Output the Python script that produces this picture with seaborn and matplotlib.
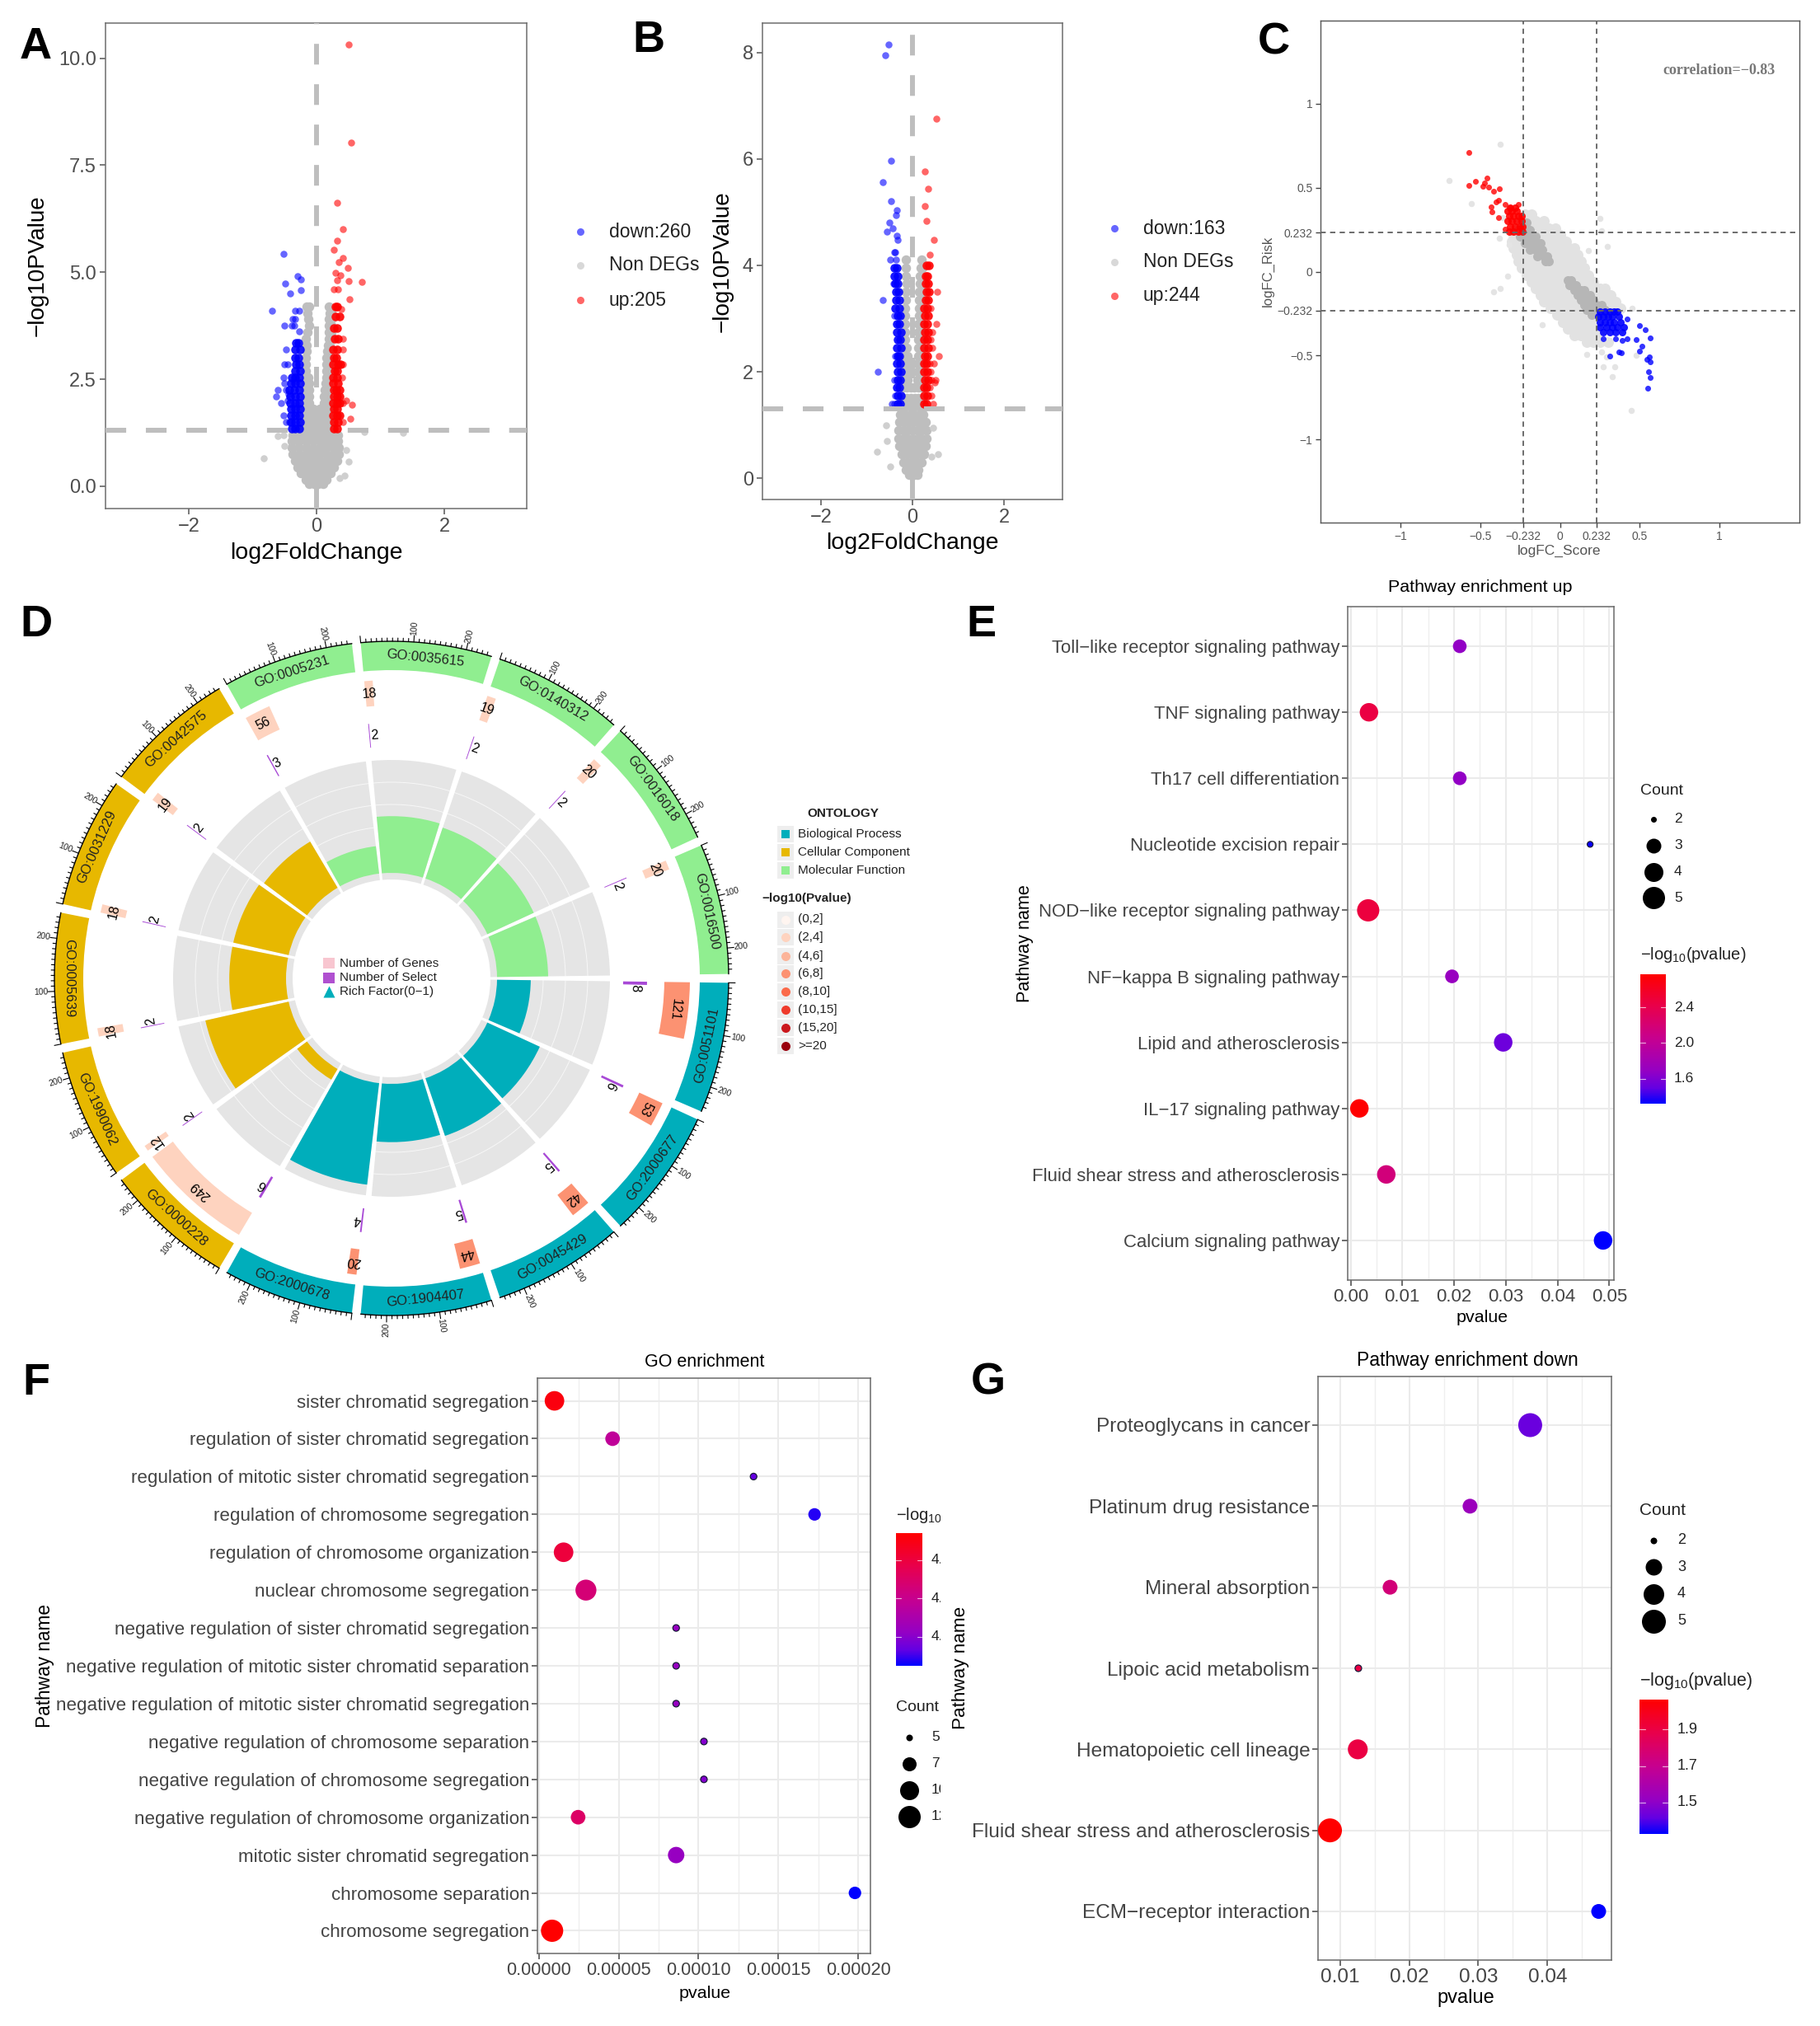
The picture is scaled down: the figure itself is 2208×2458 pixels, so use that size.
import numpy as np
import pandas as pd
import matplotlib
matplotlib.use('Agg')
import matplotlib.pyplot as plt
from matplotlib.colors import LinearSegmentedColormap, Normalize
from matplotlib.cm import ScalarMappable
from matplotlib.patches import Rectangle
import seaborn as sns

W, H = 2208, 2458

# volcano A, rows are y -> x values
A_GREY = {
    0.06: [-0.11, -0.04, 0.03, 0.1], 0.15: [-0.17, -0.08, 0.0, 0.08, 0.16], 0.3: [-0.24, -0.15, -0.06, 0.03, 0.12, 0.22],
    0.45: [-0.29, -0.2, -0.1, 0.0, 0.1, 0.2, 0.27], 0.6: [-0.34, -0.25, -0.15, -0.05, 0.05, 0.15, 0.25, 0.32],
    0.75: [-0.37, -0.27, -0.16, -0.06, 0.05, 0.16, 0.27, 0.35], 0.9: [-0.38, -0.27, -0.15, -0.05, 0.06, 0.16, 0.26, 0.35],
    1.05: [-0.39, -0.28, -0.16, -0.05, 0.05, 0.15, 0.25, 0.34], 1.2: [-0.37, -0.25, -0.13, -0.03, 0.07, 0.17, 0.27, 0.34],
    1.35: [-0.27, -0.18, -0.08, 0.0, 0.08, 0.17, 0.26], 1.5: [-0.21, -0.13, -0.06, 0.06, 0.14, 0.21],
    1.65: [-0.2, -0.12, -0.04, 0.04, 0.12, 0.19], 1.8: [-0.2, -0.12, -0.05, 0.05, 0.12, 0.19], 1.95: [-0.19, -0.12, 0.12, 0.19], 2.1: [-0.18, -0.12, 0.12, 0.18],
    2.25: [-0.18, -0.12, 0.13, 0.18], 2.4: [-0.17, -0.12, 0.14, 0.18], 2.55: [-0.17, -0.13, 0.15, 0.19], 2.7: [-0.17, 0.15, 0.19], 2.85: [-0.16, 0.16, 0.2],
    3.0: [-0.16, 0.16, 0.2], 3.15: [-0.15, 0.17, 0.2], 3.3: [-0.15, 0.18, 0.21], 3.45: [-0.16, 0.19, 0.22], 3.6: [-0.14, 0.2, 0.23], 3.75: [-0.12, 0.2, 0.23],
    3.9: [-0.13, 0.2, 0.24], 4.05: [-0.14, 0.21, 0.24], 4.2: [-0.15, -0.11, 0.2],
}
A_GREY_OUT = [(-0.82, 0.66), (-0.5, 0.95), (-0.6, 1.17), (-0.52, 1.2), (1.35, 1.26), (0.75, 1.27), (0.5, 0.58), (0.44, 0.25), (0.36, 0.2), (0.47, 0.85)]
A_BLUE = {
    1.35: [-0.27, -0.33, -0.39], 1.5: [-0.26, -0.33, -0.4], 1.65: [-0.27, -0.34, -0.4], 1.8: [-0.26, -0.33, -0.4],
    1.95: [-0.27, -0.34, -0.41], 2.1: [-0.26, -0.33, -0.41], 2.25: [-0.27, -0.35, -0.42], 2.4: [-0.26, -0.34, -0.4],
    2.55: [-0.27, -0.33, -0.38], 2.7: [-0.26, -0.34], 2.85: [-0.27, -0.32], 3.0: [-0.28, -0.34],
    3.2: [-0.26, -0.33], 3.35: [-0.28, -0.32],
}
A_BLUE_OUT = [(-0.51, 5.43), (-0.3, 4.9), (-0.24, 4.83), (-0.49, 4.74), (-0.24, 4.59), (-0.41, 4.51), (-0.27, 3.62), (-0.47, 1.5), (-0.52, 1.65), (-0.55, 1.95),
              (-0.63, 2.1), (-0.6, 2.25), (-0.48, 2.25), (-0.5, 2.4), (-0.52, 2.55), (-0.45, 2.85), (-0.5, 2.85), (-0.48, 3.2), (-0.38, 3.75), (-0.35, 3.75),
              (-0.5, 3.75), (-0.33, 3.9), (-0.37, 3.9), (-0.27, 4.1), (-0.33, 4.1), (-0.69, 4.1), (-0.42, 1.5), (-0.45, 2.0), (-0.44, 2.15)]
A_RED = {
    1.35: [0.27, 0.33], 1.5: [0.27, 0.34], 1.65: [0.26, 0.32, 0.36], 1.8: [0.27, 0.33],
    1.95: [0.26, 0.32, 0.36], 2.1: [0.27, 0.33, 0.36], 2.25: [0.27, 0.31, 0.36], 2.4: [0.26, 0.34], 2.55: [0.26, 0.32],
    2.7: [0.28, 0.33], 2.85: [0.26, 0.34, 0.37], 3.0: [0.27, 0.31], 3.2: [0.26, 0.33], 3.45: [0.28, 0.34],
    3.7: [0.27, 0.33], 3.97: [0.3, 0.36], 4.2: [0.3, 0.33],
}
A_RED_OUT = [(0.51, 10.31), (0.54, 8.02), (0.33, 6.62), (0.41, 6.0), (0.32, 5.74), (0.27, 5.53), (0.41, 5.34), (0.35, 5.24), (0.49, 5.1),
             (0.38, 4.92), (0.3, 4.99), (0.71, 4.77), (0.51, 4.79), (0.33, 4.81), (0.27, 4.61), (0.34, 4.61), (0.52, 4.37), (0.39, 4.14),
             (0.41, 1.5), (0.53, 1.58), (0.42, 1.95), (0.55, 1.9), (0.47, 2.0), (0.41, 2.85), (0.42, 3.45), (0.41, 3.2), (0.4, 2.55)]

# volcano B
B_GREY = {
    0.06: [-0.08, -0.02, 0.04, 0.1], 0.15: [-0.14, -0.05, 0.04, 0.12], 0.3: [-0.2, -0.1, 0.0, 0.1, 0.2], 0.45: [-0.24, -0.13, -0.03, 0.08, 0.18, 0.26],
    0.6: [-0.28, -0.18, -0.08, 0.02, 0.12, 0.22, 0.29], 0.75: [-0.3, -0.2, -0.1, 0.0, 0.1, 0.2, 0.3], 0.9: [-0.3, -0.2, -0.1, 0.0, 0.1, 0.2, 0.3],
    1.05: [-0.28, -0.18, -0.08, 0.02, 0.12, 0.22, 0.28], 1.2: [-0.27, -0.16, -0.06, 0.04, 0.14, 0.24], 1.35: [-0.24, -0.14, -0.04, 0.06, 0.16, 0.24],
    1.5: [-0.2, -0.12, -0.04, 0.05, 0.13, 0.21], 1.7: [-0.2, -0.12, -0.03, 0.04, 0.12, 0.2], 1.85: [-0.19, -0.11, 0.11, 0.19], 2.0: [-0.18, -0.11, 0.11, 0.18],
    2.15: [-0.18, -0.11, 0.11, 0.18], 2.3: [-0.17, -0.11, 0.12, 0.18], 2.45: [-0.17, -0.12, 0.12, 0.19], 2.6: [-0.17, 0.13, 0.19], 2.75: [-0.16, 0.13, 0.19],
    2.9: [-0.16, 0.13, 0.2], 3.05: [-0.16, 0.14, 0.2], 3.2: [-0.16, 0.14, 0.2], 3.35: [-0.15, 0.15, 0.2], 3.5: [-0.14, 0.15, 0.21],
    3.65: [-0.13, 0.16, 0.21], 3.8: [-0.14, 0.17, 0.21], 3.95: [-0.15, 0.18, 0.21], 4.1: [-0.14, 0.19],
}
B_GREY_OUT = [(-0.78, 0.5), (-0.58, 1.0), (-0.48, 0.22), (-0.55, 0.7), (0.42, 0.4), (0.45, 0.95), (0.55, 0.45)]
B_BLUE = {
    1.4: [-0.27, -0.33], 1.55: [-0.26, -0.33], 1.7: [-0.28, -0.34], 1.85: [-0.27, -0.33], 2.0: [-0.26, -0.32],
    2.15: [-0.27, -0.34], 2.3: [-0.28, -0.33], 2.45: [-0.26, -0.34], 2.6: [-0.27, -0.33], 2.75: [-0.26, -0.35], 2.9: [-0.28, -0.34],
    3.05: [-0.27, -0.33], 3.2: [-0.29, -0.37], 3.35: [-0.28, -0.36], 3.5: [-0.3, -0.36], 3.65: [-0.32, -0.38], 3.8: [-0.33, -0.39], 3.95: [-0.34, -0.4],
}
B_BLUE_OUT = [(-0.52, 8.14), (-0.59, 7.94), (-0.46, 5.96), (-0.64, 5.56), (-0.47, 5.21), (-0.34, 5.04), (-0.36, 4.94), (-0.51, 4.81), (-0.43, 4.69),
              (-0.55, 4.63), (-0.34, 4.55), (-0.32, 4.47), (-0.36, 4.1), (-0.49, 4.1), (-0.37, 4.25), (-0.4, 4.25), (-0.64, 3.35), (-0.76, 2.0), (-0.4, 1.4),
              (-0.45, 1.4), (-0.38, 1.55), (-0.39, 1.85), (-0.38, 2.3), (-0.42, 3.65), (-0.4, 3.05)]
B_RED = {
    1.4: [0.26, 0.31], 1.55: [0.26, 0.33], 1.7: [0.25, 0.31], 1.85: [0.27, 0.34], 2.0: [0.26, 0.32],
    2.15: [0.25, 0.31], 2.3: [0.27, 0.33], 2.45: [0.26, 0.34], 2.6: [0.25, 0.32], 2.75: [0.27, 0.35], 2.9: [0.26, 0.33],
    3.05: [0.27, 0.34], 3.2: [0.26, 0.32], 3.35: [0.28, 0.35], 3.5: [0.3, 0.36], 3.65: [0.28, 0.34], 3.8: [0.29, 0.33], 4.0: [0.31, 0.36],
}
B_RED_OUT = [(0.52, 6.76), (0.27, 5.77), (0.35, 5.43), (0.27, 5.12), (0.3, 4.83), (0.46, 4.47), (0.38, 4.2), (0.54, 3.5), (0.52, 2.9), (0.57, 2.3), (0.49, 1.8),
             (0.45, 1.4), (0.42, 1.55), (0.38, 1.7), (0.5, 1.85), (0.42, 1.85), (0.4, 2.0), (0.38, 2.15), (0.46, 2.15), (0.43, 2.45), (0.4, 2.6), (0.44, 2.75), (0.4, 3.2)]

# scatter C
C_LIGHT = {
    0.34: [-0.22, -0.18], 0.3: [-0.25, -0.2, -0.15, -0.1], 0.26: [-0.27, -0.22, -0.17, -0.12, -0.07, -0.03],
    0.22: [-0.29, -0.25, -0.2, -0.15, -0.1, -0.05, 0.0], 0.18: [-0.3, -0.26, -0.21, -0.16, -0.11, -0.06, -0.01, 0.04],
    0.14: [-0.29, -0.24, -0.19, -0.14, -0.09, -0.04, 0.01, 0.06, 0.09], 0.1: [-0.27, -0.22, -0.17, -0.12, -0.07, -0.02, 0.03, 0.08, 0.11],
    0.06: [-0.26, -0.21, -0.16, -0.11, -0.06, -0.01, 0.04, 0.09, 0.13], 0.02: [-0.24, -0.19, -0.14, -0.09, -0.04, 0.01, 0.06, 0.11, 0.15],
    -0.02: [-0.21, -0.16, -0.11, -0.06, -0.01, 0.04, 0.09, 0.14, 0.18], -0.06: [-0.18, -0.13, -0.08, -0.03, 0.02, 0.07, 0.12, 0.17, 0.21],
    -0.1: [-0.15, -0.1, -0.05, 0.0, 0.05, 0.1, 0.15, 0.2, 0.25, 0.28], -0.14: [-0.12, -0.07, -0.02, 0.03, 0.08, 0.13, 0.18, 0.23, 0.28, 0.32],
    -0.18: [-0.1, -0.05, 0.0, 0.05, 0.1, 0.15, 0.2, 0.25, 0.3, 0.35], -0.22: [-0.06, -0.01, 0.04, 0.09, 0.14, 0.19, 0.24, 0.29, 0.34, 0.38],
    -0.26: [-0.02, 0.03, 0.08, 0.13, 0.18, 0.23, 0.28, 0.33], -0.3: [0.02, 0.07, 0.12, 0.17, 0.22, 0.27], -0.34: [0.05, 0.09, 0.13, 0.18, 0.23, 0.28],
    -0.38: [0.09, 0.13, 0.18, 0.23], -0.42: [0.17, 0.21, 0.25, 0.3],
}
C_LIGHT_OUT = [(-0.372, 0.757), (-0.695, 0.543), (-0.553, 0.405), (0.447, -0.825), (0.33, -0.628), (0.272, -0.567), (0.342, -0.569), (0.167, -0.492),
               (-0.112, -0.315), (-0.414, -0.12), (-0.374, -0.103), (-0.33, -0.026), (0.295, 0.149), (0.249, 0.319), (0.26, 0.243), (0.18, 0.127),
               (-0.36, 0.32), (-0.38, 0.2), (-0.32, 0.16), (0.48, -0.5), (0.45, -0.22), (0.26, -0.48), (0.29, -0.51)]
C_DARK = {
    0.29: [-0.23, -0.21], 0.25: [-0.26, -0.22, -0.19], 0.21: [-0.25, -0.21, -0.17, -0.15], 0.17: [-0.22, -0.18, -0.14, -0.12], 0.13: [-0.19, -0.15, -0.11], 0.09: [-0.14, -0.1, -0.08], 0.06: [-0.09, -0.07],
    -0.05: [0.05, 0.07], -0.08: [0.06, 0.1], -0.11: [0.09, 0.13, 0.15], -0.14: [0.11, 0.15, 0.19], -0.17: [0.13, 0.17, 0.21], -0.2: [0.15, 0.19, 0.23, 0.26], -0.23: [0.17, 0.21, 0.25, 0.28],
    -0.26: [0.2, 0.24, 0.28],
}
C_RED = {
    0.24: [-0.32, -0.29, -0.26, -0.235], 0.27: [-0.31, -0.28, -0.25, -0.235], 0.3: [-0.33, -0.3, -0.27, -0.24], 0.33: [-0.32, -0.29, -0.26, -0.24],
    0.36: [-0.33, -0.3, -0.27], 0.38: [-0.31, -0.28],
}
C_RED_OUT = [(-0.572, 0.707), (-0.57, 0.512), (-0.53, 0.54), (-0.484, 0.51), (-0.474, 0.527), (-0.456, 0.556), (-0.449, 0.503), (-0.414, 0.477), (-0.379, 0.495),
             (-0.402, 0.416), (-0.386, 0.427), (-0.433, 0.383), (-0.426, 0.357), (-0.384, 0.324), (-0.344, 0.4), (-0.263, 0.4), (-0.31, 0.379), (-0.344, 0.254)]
C_BLUE = {
    -0.24: [0.25, 0.28, 0.31, 0.34, 0.36], -0.27: [0.24, 0.27, 0.3, 0.33, 0.37], -0.3: [0.25, 0.28, 0.31, 0.34, 0.38], -0.33: [0.25, 0.29, 0.33, 0.36, 0.4],
    -0.36: [0.27, 0.31, 0.35, 0.39],
}
C_BLUE_OUT = [(0.423, -0.282), (0.5, -0.322), (0.533, -0.346), (0.563, -0.396), (0.477, -0.403), (0.514, -0.442), (0.5, -0.475), (0.558, -0.508), (0.544, -0.525),
              (0.563, -0.54), (0.553, -0.597), (0.563, -0.63), (0.551, -0.694), (0.314, -0.503), (0.384, -0.486), (0.37, -0.48), (0.27, -0.4), (0.35, -0.4), (0.39, -0.41), (0.42, -0.4)]

# circular plot D, clockwise from the east
GO_IDS = ['GO:0051101', 'GO:2000677', 'GO:0045429', 'GO:1904407', 'GO:2000678', 'GO:0000228', 'GO:1990062', 'GO:0005639',
          'GO:0031229', 'GO:0042575', 'GO:0005231', 'GO:0035615', 'GO:0140312', 'GO:0016018', 'GO:0016500']
GO_GROUP = ['BP'] * 5 + ['CC'] * 5 + ['MF'] * 5
GO_GENES = [121, 53, 42, 44, 20, 249, 12, 18, 18, 19, 56, 18, 19, 20, 20]
GO_SELECT = [8, 6, 5, 5, 4, 6, 2, 2, 2, 2, 3, 2, 2, 2, 2]
GO_RICH = [0.066, 0.113, 0.119, 0.114, 0.2, 0.024, 0.167, 0.111, 0.111, 0.105, 0.054, 0.111, 0.105, 0.1, 0.1]
GO_P_CLASS = [3, 3, 3, 3, 3, 1, 1, 1, 1, 1, 1, 1, 1, 1, 1]
ONT_COLORS = {'BP': '#00AEBB', 'CC': '#E7B800', 'MF': '#90EE90'}
P_LABELS = ['(0,2]', '(2,4]', '(4,6]', '(6,8]', '(8,10]', '(10,15]', '(15,20]', '>=20']
P_COLORS = ['#FFF5F0', '#FED3BF', '#FCB499', '#FC9272', '#FB6A4A', '#EF3B2C', '#CB181D', '#99000D']

# bubble plots
E_TERMS = ['Toll\u2212like receptor signaling pathway', 'TNF signaling pathway', 'Th17 cell differentiation', 'Nucleotide excision repair',
           'NOD\u2212like receptor signaling pathway', 'NF\u2212kappa B signaling pathway', 'Lipid and atherosclerosis', 'IL\u221217 signaling pathway',
           'Fluid shear stress and atherosclerosis', 'Calcium signaling pathway']
E_P = [0.0211, 0.00355, 0.0211, 0.0463, 0.0034, 0.0196, 0.0295, 0.0017, 0.0069, 0.0488]
E_COUNT = [3, 4, 3, 2, 5, 3, 4, 4, 4, 4]
E_LOGP = [1.68, 2.45, 1.68, 1.33, 2.47, 1.71, 1.53, 2.77, 2.16, 1.31]

F_TERMS = ['sister chromatid segregation', 'regulation of sister chromatid segregation', 'regulation of mitotic sister chromatid segregation',
           'regulation of chromosome segregation', 'regulation of chromosome organization', 'nuclear chromosome segregation',
           'negative regulation of sister chromatid segregation', 'negative regulation of mitotic sister chromatid separation',
           'negative regulation of mitotic sister chromatid segregation', 'negative regulation of chromosome separation',
           'negative regulation of chromosome segregation', 'negative regulation of chromosome organization',
           'mitotic sister chromatid segregation', 'chromosome separation', 'chromosome segregation']
F_P = [9.8e-6, 4.62e-5, 1.345e-4, 1.727e-4, 1.55e-5, 2.95e-5, 8.6e-5, 8.6e-5, 8.6e-5, 1.034e-4, 1.034e-4, 2.46e-5, 8.6e-5, 1.98e-4, 8.3e-6]
F_COUNT = [11, 8, 5, 7, 11, 12, 5, 5, 5, 5, 5, 8, 9, 7, 13]
F_LOGP = [5.01, 4.34, 3.87, 3.76, 4.81, 4.53, 4.07, 4.07, 4.07, 3.99, 3.99, 4.61, 4.07, 3.70, 5.08]

G_TERMS = ['Proteoglycans in cancer', 'Platinum drug resistance', 'Mineral absorption', 'Lipoic acid metabolism', 'Hematopoietic cell lineage',
           'Fluid shear stress and atherosclerosis', 'ECM\u2212receptor interaction']
G_P = [0.0375, 0.0288, 0.01724, 0.01265, 0.01257, 0.00855, 0.0474]
G_COUNT = [5, 3, 3, 2, 4, 5, 3]
G_LOGP = [1.43, 1.54, 1.76, 1.90, 1.90, 2.07, 1.32]

sns.set_theme(style='white')
plt.rcParams['font.family'] = ['Liberation Sans', 'DejaVu Sans']
plt.rcParams['mathtext.fontset'] = 'custom'
plt.rcParams['mathtext.rm'] = 'Liberation Sans'
plt.rcParams['mathtext.default'] = 'rm'
plt.rcParams['axes.unicode_minus'] = True

fig = plt.figure(figsize=(W / 100, H / 100), dpi=100, facecolor='white')


def ax_px(left, top, right, bottom, **kw):
    return fig.add_axes([left / W, 1 - bottom / H, (right - left) / W, (bottom - top) / H], **kw)


def px(d):
    # marker diameter in pixels to scatter area
    return (d * 0.72) ** 2


def rows_df(rows, extra=()):
    pts = [(x, y) for y, xs in rows.items() for x in xs] + list(extra)
    return pd.DataFrame(pts, columns=['x', 'y'])


def box(ax, color='#6E6E6E', lw=1.1):
    for s in ax.spines.values():
        s.set_visible(True)
        s.set_color(color)
        s.set_linewidth(lw)


ov = fig.add_axes([0, 0, 1, 1], zorder=20)
ov.set_xlim(0, W)
ov.set_ylim(H, 0)
ov.axis('off')


def put(x, y, s, size=15, ha='center', rot=0, **kw):
    kw.setdefault('color', 'black')
    return ov.text(x, y, s, fontsize=size, ha=ha, va='center', rotation=rot, **kw)


for name, x, y in [('A', 43, 57), ('B', 787, 49), ('C', 1545, 51), ('D', 44, 758), ('E', 1190, 758), ('F', 44, 1678), ('G', 1199, 1678)]:
    put(x, y, name, size=39, fontweight='bold')


def volcano(rect, xlim, ylim, yticks, grey, grey_out, blue, blue_out, red, red_out, ylabels):
    ax = ax_px(*rect)
    sns.scatterplot(data=rows_df(grey), x='x', y='y', color='#BEBEBE', s=px(11.5), linewidth=0, ax=ax, legend=False, zorder=2)
    sns.scatterplot(data=rows_df({}, grey_out), x='x', y='y', color='#CFCFCF', s=px(8.5), linewidth=0, ax=ax, legend=False, zorder=2)
    sns.scatterplot(data=rows_df(blue), x='x', y='y', color='#0000FF', s=px(10.5), alpha=0.9, linewidth=0, ax=ax, legend=False, zorder=3)
    sns.scatterplot(data=rows_df({}, blue_out), x='x', y='y', color='#0000FF', s=px(8.5), alpha=0.6, linewidth=0, ax=ax, legend=False, zorder=3)
    sns.scatterplot(data=rows_df(red), x='x', y='y', color='#FF0000', s=px(10.5), alpha=0.9, linewidth=0, ax=ax, legend=False, zorder=3)
    sns.scatterplot(data=rows_df({}, red_out), x='x', y='y', color='#FF0000', s=px(8.5), alpha=0.6, linewidth=0, ax=ax, legend=False, zorder=3)
    ax.axhline(1.3, color='#BEBEBE', lw=4.3, dashes=(4.2, 4), zorder=4)
    ax.axvline(0, color='#BEBEBE', lw=4.3, dashes=(4.2, 4), zorder=4)
    ax.set_xlim(*xlim)
    ax.set_ylim(*ylim)
    ax.set_xticks([-2, 0, 2])
    ax.set_xticklabels(['\u22122', '0', '2'])
    ax.set_yticks(yticks)
    ax.set_yticklabels(ylabels)
    ax.tick_params(left=True, bottom=True, length=5, width=1.1, color='#555555', labelsize=17, labelcolor='#4D4D4D', pad=3)
    ax.set_xlabel('')
    ax.set_ylabel('')
    box(ax)
    return ax


volcano((128, 28, 639, 617), (-3.3, 3.29), (-0.52, 10.82), [0, 2.5, 5, 7.5, 10], A_GREY, A_GREY_OUT,
        A_BLUE, A_BLUE_OUT, A_RED, A_RED_OUT, ['0.0', '2.5', '5.0', '7.5', '10.0'])
volcano((925, 28, 1289, 606), (-3.28, 3.28), (-0.4, 8.55), [0, 2, 4, 6, 8], B_GREY, B_GREY_OUT,
        B_BLUE, B_BLUE_OUT, B_RED, B_RED_OUT, ['0', '2', '4', '6', '8'])

put(46, 322, '\u2212log10PValue', size=20, rot=90)
put(384, 671, 'log2FoldChange', size=20.5)
put(877, 317, '\u2212log10PValue', size=20, rot=90)
put(1107, 659, 'log2FoldChange', size=20.5)
for x0, rows in [(704, [('down:260', 281, '#0000FF'), ('Non DEGs', 322, '#BEBEBE'), ('up:205', 364, '#FF0000')]),
                 (1352, [('down:163', 277, '#0000FF'), ('Non DEGs', 318, '#BEBEBE'), ('up:244', 359, '#FF0000')])]:
    for label, y, col in rows:
        ov.scatter([x0], [y], s=px(9), color=col, alpha=0.6, linewidth=0)
        put(x0 + 35, y, label, size=16.5, ha='left', color='#222222')

# panel C
ax_c = ax_px(1602, 25, 2183, 634)
sns.scatterplot(data=rows_df(C_LIGHT), x='x', y='y', color='#E2E2E2', s=px(13), linewidth=0, ax=ax_c, legend=False, zorder=2)
sns.scatterplot(data=rows_df({}, C_LIGHT_OUT), x='x', y='y', color='#E4E4E4', s=px(7.5), linewidth=0, ax=ax_c, legend=False, zorder=2)
sns.scatterplot(data=rows_df(C_DARK), x='x', y='y', color='#B6B6B6', s=px(11), linewidth=0, ax=ax_c, legend=False, zorder=3)
sns.scatterplot(data=rows_df(C_RED), x='x', y='y', color='#FF0000', s=px(9), alpha=0.9, linewidth=0, ax=ax_c, legend=False, zorder=4)
sns.scatterplot(data=rows_df({}, C_RED_OUT), x='x', y='y', color='#FF0000', s=px(7), alpha=0.8, linewidth=0, ax=ax_c, legend=False, zorder=4)
sns.scatterplot(data=rows_df(C_BLUE), x='x', y='y', color='#0000FF', s=px(9), alpha=0.9, linewidth=0, ax=ax_c, legend=False, zorder=4)
sns.scatterplot(data=rows_df({}, C_BLUE_OUT), x='x', y='y', color='#0000FF', s=px(7), alpha=0.8, linewidth=0, ax=ax_c, legend=False, zorder=4)
for v in [-0.232, 0.232]:
    ax_c.axhline(v, color='#666666', lw=1.35, ls=(0, (3.4, 2.8)), zorder=5)
    ax_c.axvline(v, color='#666666', lw=1.35, ls=(0, (3.4, 2.8)), zorder=5)
ax_c.set_xlim(-1.5, 1.5)
ax_c.set_ylim(-1.495, 1.495)
c_ticks = [-1, -0.5, -0.232, 0, 0.232, 0.5, 1]
c_labels = ['\u22121', '\u22120.5', '\u22120.232', '0', '0.232', '0.5', '1']
ax_c.set_xticks(c_ticks)
ax_c.set_xticklabels(c_labels)
ax_c.set_yticks(c_ticks)
ax_c.set_yticklabels(c_labels)
ax_c.tick_params(left=True, bottom=True, length=4, width=1, color='#444444', labelsize=10, labelcolor='#555555', pad=3)
ax_c.set_xlabel('')
ax_c.set_ylabel('')
box(ax_c, '#555555', 1.0)
put(1892, 668, 'logFC_Score', size=12.5, color='#555555')
put(1538, 329, 'logFC_Risk', size=12, rot=90, color='#555555')
put(2086, 85, 'correlation=\u22120.83', size=13, color='#777777', fontweight='bold', family='Liberation Serif')

# panel D
R_MAX = 480
ax_d = ax_px(475 - R_MAX, 1187 - R_MAX, 475 + R_MAX, 1187 + R_MAX, projection='polar')
ax_d.set_ylim(0, R_MAX)
ax_d.axis('off')
STEP = 24
GAP = 1.5
DEG_PER_UNIT = 0.0904
for i, go in enumerate(GO_IDS):
    start = -i * STEP - GAP / 2
    end = -(i + 1) * STEP + GAP / 2
    mid = (start + end) / 2
    col = ONT_COLORS[GO_GROUP[i]]
    width = np.deg2rad(start - end)
    th_end = np.deg2rad(end)
    ax_d.bar(th_end, 35, width=width, bottom=374, align='edge', color=col, linewidth=0)
    ax_d.bar(th_end, 145, width=width, bottom=120, align='edge', color='#E5E5E5', linewidth=0, zorder=0.5)
    for r in [157, 184, 211, 238]:
        ax_d.plot(np.linspace(th_end, th_end + width, 30), [r] * 30, color='white', lw=0.7, alpha=0.7, zorder=0.7)
    ax_d.bar(th_end, 620 * GO_RICH[i], width=width, bottom=128, align='edge', color=col, linewidth=0, zorder=1)
    # gene and select bars grow clockwise from the sector start
    g_w = np.deg2rad(GO_GENES[i] * DEG_PER_UNIT)
    gene_col = P_COLORS[GO_P_CLASS[i]]
    ax_d.bar(np.deg2rad(start) - g_w, 31, width=g_w, bottom=331, align='edge', color=gene_col, linewidth=0)
    s_w = np.deg2rad(GO_SELECT[i] * DEG_PER_UNIT)
    ax_d.bar(np.deg2rad(start) - s_w, 29, width=s_w, bottom=281, align='edge', color='#A849D6', linewidth=0)
    g_mid = start - GO_GENES[i] * DEG_PER_UNIT / 2
    s_mid = start - GO_SELECT[i] * DEG_PER_UNIT / 2 - 1.1
    ax_d.text(np.deg2rad(g_mid), 346, str(GO_GENES[i]), rotation=g_mid - 90, rotation_mode='anchor', ha='center', va='center', fontsize=11.5, color='black')
    ax_d.text(np.deg2rad(s_mid), 296, str(GO_SELECT[i]), rotation=s_mid - 90, rotation_mode='anchor', ha='center', va='center', fontsize=11.5, color='black')
    # sector name, flipped on the lower half
    m = mid % 360
    rot = m + 90 if m > 180 else m - 90
    if abs(m - 180) < 1:
        rot = -90
    ax_d.text(np.deg2rad(mid), 391, go, rotation=rot, rotation_mode='anchor', ha='center', va='center', fontsize=12, color='#222222')
    # outer axis
    ax_d.plot(np.linspace(th_end, th_end + width, 40), [409] * 40, color='black', lw=1)
    for u in np.arange(0, 250, 10):
        a = np.deg2rad(start - u * DEG_PER_UNIT)
        major = u % 100 == 0
        ax_d.plot([a, a], [409, 417 if major else 413], color='black', lw=0.8)
        if major and u > 0:
            deg = (start - u * DEG_PER_UNIT) % 360
            tr = deg if np.cos(np.deg2rad(deg)) > 0 else deg + 180
            ax_d.text(a, 426, str(u), rotation=tr, rotation_mode='anchor', ha='center', va='center', fontsize=7.5, color='#222222')
ax_d.set_ylim(0, R_MAX)

ov.add_patch(Rectangle((392, 1162), 14, 13, color='#F8C6D0', linewidth=0))
ov.add_patch(Rectangle((392, 1180), 14, 13, color='#B050D0', linewidth=0))
ov.scatter([399], [1203], marker='^', s=px(14), color='#00AEBB', linewidth=0)
for y, s in [(1169, 'Number of Genes'), (1186.5, 'Number of Select'), (1203, 'Rich Factor(0\u22121)')]:
    put(412, y, s, size=11, ha='left', color='#222222')
put(1023, 987, 'ONTOLOGY', size=11, fontweight='bold', color='#222222')
for y, s, c in [(1012, 'Biological Process', 'BP'), (1034, 'Cellular Component', 'CC'), (1056, 'Molecular Function', 'MF')]:
    ov.add_patch(Rectangle((943, y - 10), 20, 20, color='#EEEEEE', linewidth=0))
    ov.add_patch(Rectangle((948, y - 5), 10, 10, color=ONT_COLORS[c], linewidth=0))
    put(968, y, s, size=11.1, ha='left', color='#222222')
put(924, 1090, '\u2212log10(Pvalue)', size=11, ha='left', fontweight='bold', color='#222222')
for y, s, c in zip([1115.5, 1137, 1159.6, 1181, 1203, 1225, 1247, 1269], P_LABELS, P_COLORS):
    ov.add_patch(Rectangle((943, y - 10), 20, 20, color='#EEEEEE', linewidth=0))
    ov.scatter([953], [y], s=px(11), color=c, linewidth=0)
    put(968, y, s, size=11, ha='left', color='#222222')

blue_red = LinearSegmentedColormap.from_list('blue_red', [(0, '#0000FF'), (0.12, '#6400E2'), (0.25, '#9400C4'),
                                                          (0.5, '#C60090'), (0.75, '#E8004C'), (1, '#FF0000')])


def bubble(rect, terms, pvals, counts, logp, xlim, xticks, xlabels, xminor, logp_range, size_px, tick_fs, xtick_fs):
    ax = ax_px(*rect)
    df = pd.DataFrame({'term': terms, 'p': pvals, 'count': counts, 'logp': logp})
    ax.set_axisbelow(True)
    ax.grid(True, which='major', color='#EBEBEB', lw=1.5)
    sns.scatterplot(data=df, x='p', y='term', hue='logp', size='count', palette=blue_red, hue_norm=logp_range,
                    sizes=(px(size_px[0]), px(size_px[1])), size_norm=(min(counts), max(counts)),
                    linewidth=0, ax=ax, legend=False, zorder=3)
    coll = ax.collections[0]
    coll.set_edgecolor('#1A1A3A')
    coll.set_linewidth([0.9 if c == min(counts) else 0 for c in counts])
    ax.set_xlim(*xlim)
    ax.set_ylim(len(terms) - 0.4, -0.6)
    ax.set_xticks(xticks)
    ax.set_xticklabels(xlabels)
    ax.set_xticks(xminor, minor=True)
    ax.grid(True, which='minor', axis='x', color='#EFEFEF', lw=1)
    ax.tick_params(axis='both', which='major', left=True, bottom=True, length=5, width=1.1, color='#444444', labelcolor='#444444', pad=2)
    ax.tick_params(axis='both', which='minor', length=0)
    ax.tick_params(axis='y', labelsize=tick_fs)
    ax.tick_params(axis='x', labelsize=xtick_fs)
    ax.set_xlabel('')
    ax.set_ylabel('')
    box(ax, '#6A6A6A', 1.1)
    return ax


def colorbar(rect, lo_hi, ticks, labels, fs, label_x, target=None):
    cax = ax_px(*rect)
    cb = fig.colorbar(ScalarMappable(norm=Normalize(*lo_hi), cmap=blue_red), cax=cax)
    cb.outline.set_visible(False)
    cb.set_ticks([])
    for t in ticks:
        cax.plot([0, 0.2], [t, t], color='white', lw=0.8, alpha=0.7, transform=cax.get_yaxis_transform())
        cax.plot([0.8, 1], [t, t], color='white', lw=0.8, alpha=0.7, transform=cax.get_yaxis_transform())
    norm = Normalize(*lo_hi)
    for t, lab in zip(ticks, labels):
        y = rect[3] - norm(t) * (rect[3] - rect[1])
        (target or ov).text(label_x, y, lab, fontsize=fs, va='center', ha='left', color='#222222', clip_on=target is not None)


LOG_TITLE = r'$-\mathrm{log}_{10}$(pvalue)'

# panel E
bubble((1635, 736, 1958, 1553), E_TERMS, E_P, E_COUNT, E_LOGP, (-0.00056, 0.0509), [0, 0.01, 0.02, 0.03, 0.04, 0.05],
       ['0.00', '0.01', '0.02', '0.03', '0.04', '0.05'], [0.005, 0.015, 0.025, 0.035, 0.045], (1.318, 2.77), (7, 27), 15.9, 16)
put(1796, 713, 'Pathway enrichment up', size=15.4)
put(1798, 1598, 'pvalue', size=15.4)
put(1243, 1145, 'Pathway name', size=15.6, rot=90)
put(1990, 959, 'Count', size=14, ha='left', color='#222222')
for c, d, y in [('2', 7, 994), ('3', 18, 1025.5), ('4', 23, 1057.6), ('5', 27, 1089)]:
    ov.scatter([2005.6], [y], s=px(d), color='black', linewidth=0)
    put(2031, y, c, size=12.5, ha='left', color='#222222')
put(1990, 1159, LOG_TITLE, size=14.5, ha='left', color='#222222')
colorbar((1990, 1182, 2021, 1339), (1.318, 2.77), [1.6, 2.0, 2.4], ['1.6', '2.0', '2.4'], 12.5, 2031)

# panel F
bubble((652, 1672, 1056, 2370), F_TERMS, F_P, F_COUNT, F_LOGP, (-8.8e-7, 2.077e-4), [0, 5e-5, 1e-4, 1.5e-4, 2e-4],
       ['0.00000', '0.00005', '0.00010', '0.00015', '0.00020'], [2.5e-5, 7.5e-5, 1.25e-4, 1.75e-4], (3.70, 5.08), (8, 27), 16.1, 15.7)
put(855, 1652, 'GO enrichment', size=15.5)
put(855, 2418, 'pvalue', size=15.4)
put(54, 2021, 'Pathway name', size=16.3, rot=90)
# this legend is cut off at the panel edge in the figure
leg_f = ax_px(1075, 1815, 1141, 2235)
leg_f.set_xlim(1075, 1141)
leg_f.set_ylim(2235, 1815)
leg_f.axis('off')
leg_f.text(1087, 1839, LOG_TITLE, fontsize=14.5, ha='left', va='center', color='#222222', clip_on=True)
leg_f.text(1087, 2071, 'Count', fontsize=14, ha='left', va='center', color='#222222', clip_on=True)
for c, d, y in [('5.0', 8, 2108), ('7.5', 17, 2140), ('10.0', 23, 2172), ('12.5', 27, 2204)]:
    leg_f.scatter([1103], [y], s=px(d), color='black', linewidth=0)
    leg_f.text(1130, y, c, fontsize=12.5, ha='left', va='center', color='#222222', clip_on=True)
colorbar((1087, 1860, 1119, 2021), (3.70, 5.08), [4.0, 4.4, 4.8], ['4.0', '4.4', '4.8'], 12.5, 1130, target=leg_f)

# panel G
bubble((1599, 1670, 1955, 2378), G_TERMS, G_P, G_COUNT, G_LOGP, (0.00682, 0.04925), [0.01, 0.02, 0.03, 0.04],
       ['0.01', '0.02', '0.03', '0.04'], [0.015, 0.025, 0.035, 0.045], (1.327, 2.064), (8, 29), 17.6, 17.5)
put(1780, 1650, 'Pathway enrichment down', size=16.5)
put(1778, 2424, 'pvalue', size=17)
put(1165, 2023, 'Pathway name', size=16.2, rot=90)
put(1989, 1832, 'Count', size=15, ha='left', color='#222222')
for c, d, y in [('2', 8, 1868.5), ('3', 20, 1901), ('4', 25, 1934), ('5', 29, 1966.5)]:
    ov.scatter([2006], [y], s=px(d), color='black', linewidth=0)
    put(2035, y, c, size=13, ha='left', color='#222222')
put(1989, 2039, LOG_TITLE, size=15.5, ha='left', color='#222222')
colorbar((1989, 2062, 2024, 2225), (1.327, 2.064), [1.5, 1.7, 1.9], ['1.5', '1.7', '1.9'], 13, 2035)

fig.savefig('out.png', dpi=100)
plt.close(fig)
